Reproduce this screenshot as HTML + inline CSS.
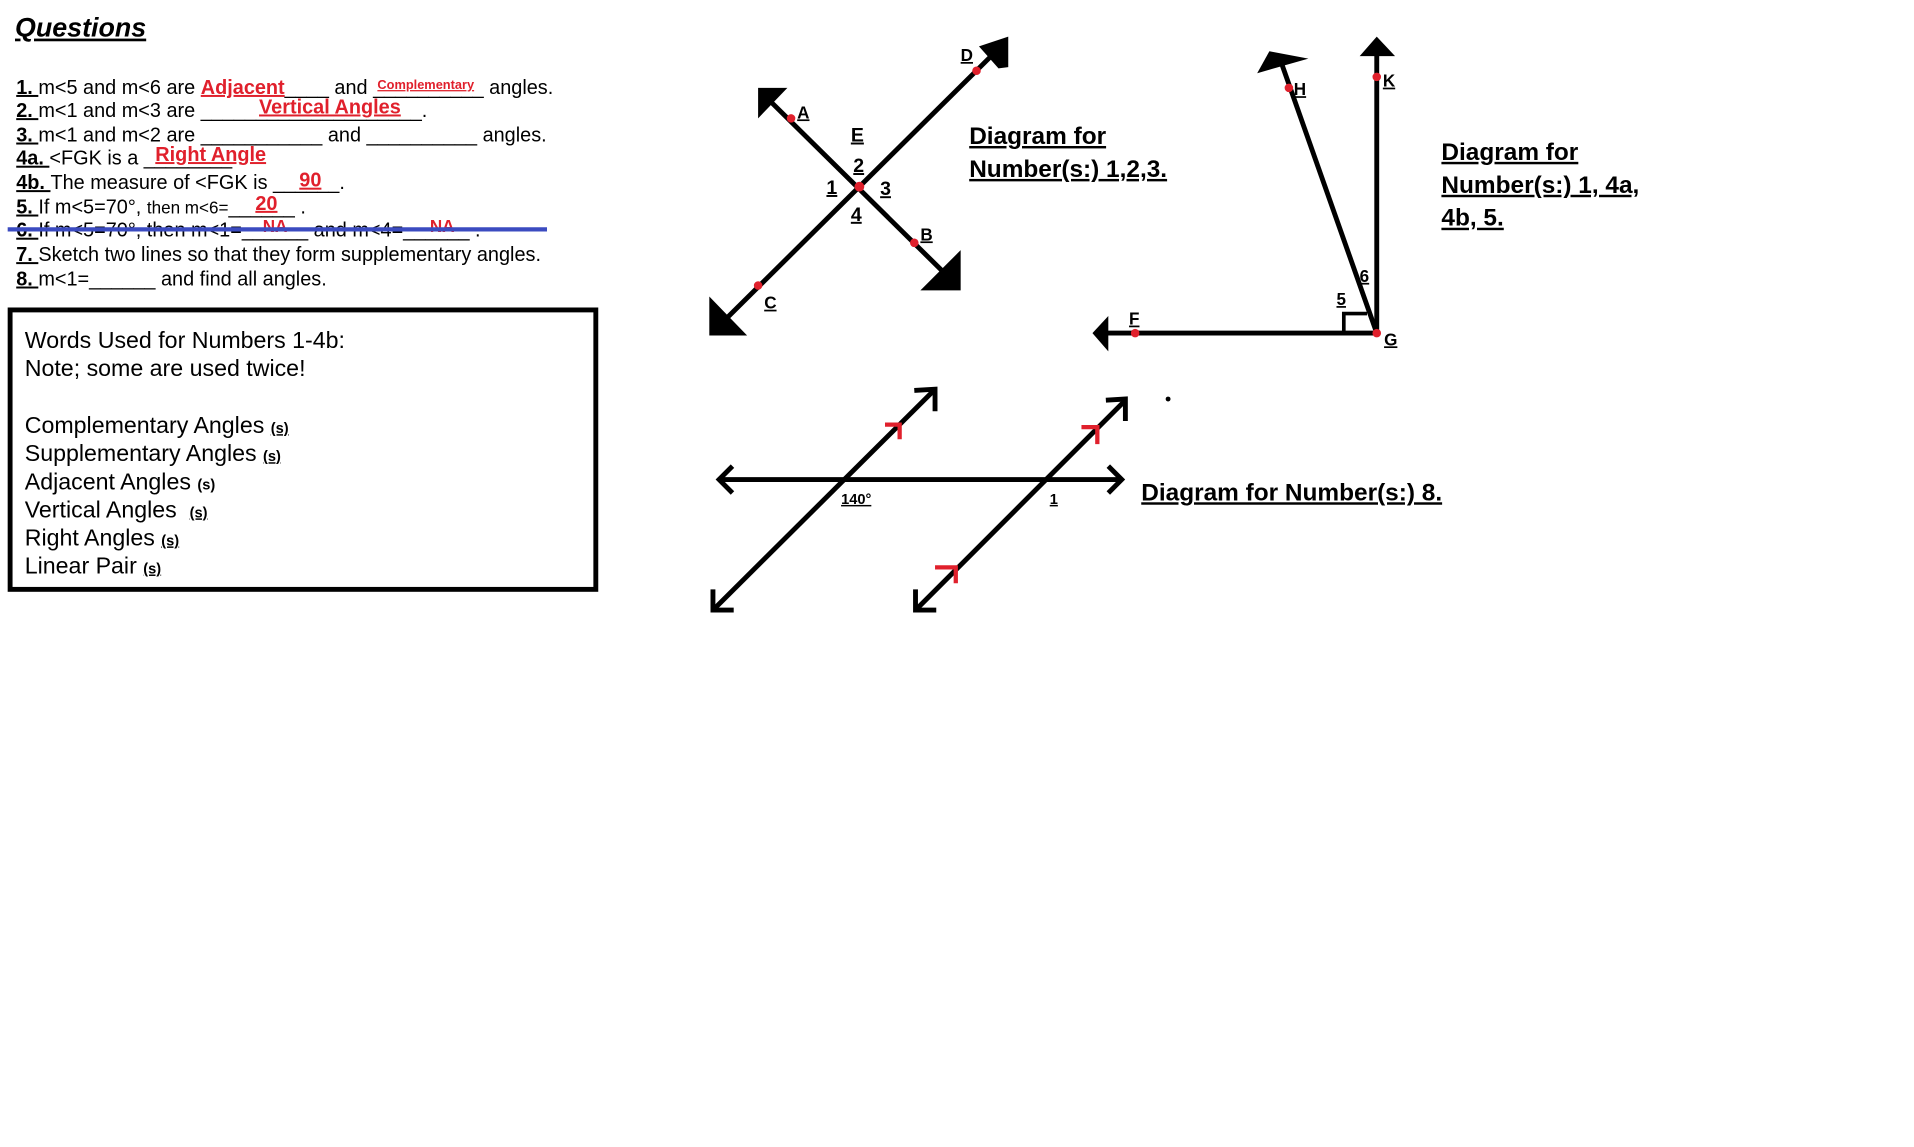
<!DOCTYPE html>
<html><head><style>
html,body{margin:0;padding:0;background:#fff;width:1914px;height:1147px;overflow:hidden}
svg{display:block}
text{font-family:"Liberation Sans",Arial,sans-serif}
.q{font-size:16.3px}
.b{font-weight:bold}
.r{fill:#e0202c;font-weight:bold}
.lab{font-size:16px;font-weight:bold;text-decoration:underline}
.big{font-size:20px;font-weight:bold;text-decoration:underline}
</style></head><body>
<svg width="1914" height="1147" viewBox="0 0 1568 940" xmlns="http://www.w3.org/2000/svg">
<rect width="1568" height="940" fill="#fff"/>
<text x="12" y="30" font-size="22" font-weight="bold" font-style="italic" text-decoration="underline">Questions</text>
<g class="q">
<text x="13" y="77"><tspan class="b" text-decoration="underline">1. </tspan>m&lt;5 and m&lt;6 are <tspan class="r" text-decoration="underline">Adjacent</tspan>____ and __________ angles.</text>
<text x="309" y="73" font-size="10.5" class="r" text-decoration="underline">Complementary</text>
<text x="13" y="96"><tspan class="b" text-decoration="underline">2. </tspan>m&lt;1 and m&lt;3 are ____________________.</text>
<text x="212" y="93" class="r" text-decoration="underline">Vertical Angles</text>
<text x="13" y="116"><tspan class="b" text-decoration="underline">3. </tspan>m&lt;1 and m&lt;2 are ___________ and __________ angles.</text>
<text x="13" y="135"><tspan class="b" text-decoration="underline">4a. </tspan>&lt;FGK is a ________ .</text>
<text x="127" y="132" class="r" text-decoration="underline">Right Angle</text>
<text x="13" y="155"><tspan class="b" text-decoration="underline">4b. </tspan>The measure of &lt;FGK is ______.</text>
<text x="245" y="153" class="r" text-decoration="underline">90</text>
<text x="13" y="175"><tspan class="b" text-decoration="underline">5. </tspan>If m&lt;5=70°, <tspan font-size="14">then m&lt;6=</tspan>______ .</text>
<text x="209" y="172" class="r" text-decoration="underline">20</text>
<text x="13" y="194"><tspan class="b" text-decoration="underline">6. </tspan>If m&lt;5=70°, then m&lt;1=______ and m&lt;4=______ .</text>
<text x="215" y="190" class="r" font-size="14">NA</text>
<text x="352" y="190" class="r" font-size="14">NA</text>
<text x="13" y="214"><tspan class="b" text-decoration="underline">7. </tspan>Sketch two lines so that they form supplementary angles.</text>
<text x="13" y="234"><tspan class="b" text-decoration="underline">8. </tspan>m&lt;1=______ and find all angles.</text>
</g>
<line x1="6" y1="188" x2="448" y2="188" stroke="#3b4bc0" stroke-width="3.5"/>
<rect x="8" y="254" width="480" height="229" fill="none" stroke="#000" stroke-width="4"/>
<g font-size="19">
<text x="20" y="285">Words Used for Numbers 1-4b:</text>
<text x="20" y="308">Note; some are used twice!</text>
<text x="20" y="355">Complementary Angles <tspan font-size="12" font-weight="bold" text-decoration="underline">(s)</tspan></text>
<text x="20" y="378">Supplementary Angles <tspan font-size="12" font-weight="bold" text-decoration="underline">(s)</tspan></text>
<text x="20" y="401">Adjacent Angles <tspan font-size="12" font-weight="bold">(s)</tspan></text>
<text x="20" y="424">Vertical Angles &#160;<tspan font-size="12" font-weight="bold" text-decoration="underline">(s)</tspan></text>
<text x="20" y="447">Right Angles <tspan font-size="12" font-weight="bold" text-decoration="underline">(s)</tspan></text>
<text x="20" y="470">Linear Pair <tspan font-size="12" font-weight="bold" text-decoration="underline">(s)</tspan></text>
</g>
<g stroke="#000" stroke-width="4">
<line x1="592" y1="264" x2="818" y2="40"/>
<line x1="630" y1="82" x2="780" y2="230"/>
</g>
<polygon points="802,38 826,30 826,55 818,56" fill="#000"/>
<polygon points="581,243 581,275 612,275" fill="#000"/>
<polygon points="621,72 645,72 621,97" fill="#000"/>
<polygon points="787,205 787,238 754,238" fill="#000"/>
<g fill="#e0202c"><circle cx="648" cy="97" r="3.5"/><circle cx="800" cy="58" r="3.5"/><circle cx="749" cy="199" r="3.5"/><circle cx="621" cy="234" r="3.5"/><circle cx="704" cy="153" r="4"/></g>
<g class="lab">
<text x="697" y="116">E</text><text x="699" y="141">2</text><text x="677" y="159">1</text><text x="721" y="160">3</text><text x="697" y="181">4</text>
<text x="653" y="97" style="font-size:14px">A</text><text x="787" y="50" style="font-size:14px">D</text><text x="754" y="197" style="font-size:14px">B</text><text x="626" y="253" style="font-size:14px">C</text>
</g>
<text x="794" y="118" class="big">Diagram for</text>
<text x="794" y="145" class="big">Number(s:) 1,2,3.</text>
<g stroke="#000" stroke-width="4" fill="none">
<line x1="1128" y1="273" x2="1128" y2="42"/>
<line x1="1128" y1="273" x2="1050" y2="52"/>
<line x1="1128" y1="273" x2="905" y2="273"/>
<polyline points="1101,273 1101,257 1120,257" stroke-width="3"/>
</g>
<polygon points="1114,46 1128,30 1143,46" fill="#000"/>
<polygon points="1030,60 1040,42 1072,48" fill="#000"/>
<polygon points="895,273 908,259 908,288" fill="#000"/>
<g fill="#e0202c"><circle cx="1128" cy="63" r="3.5"/><circle cx="1056" cy="72" r="3.5"/><circle cx="930" cy="273" r="3.5"/><circle cx="1128" cy="273" r="3.5"/></g>
<g class="lab">
<text x="1133" y="71" style="font-size:14px">K</text><text x="1060" y="78" style="font-size:14px">H</text><text x="925" y="266" style="font-size:14px">F</text><text x="1134" y="283" style="font-size:14px">G</text>
<text x="1095" y="250" style="font-size:14px">5</text><text x="1114" y="231" style="font-size:14px">6</text>
</g>
<text x="1181" y="131" class="big">Diagram for</text>
<text x="1181" y="158" class="big">Number(s:) 1, 4a,</text>
<text x="1181" y="185" class="big">4b, 5.</text>
<g stroke="#000" stroke-width="4" fill="none">
<line x1="589" y1="393" x2="919" y2="393"/>
<polyline points="600,382 589,393 600,404"/>
<polyline points="908,382 919,393 908,404"/>
<line x1="584" y1="500" x2="765" y2="320"/>
<polyline points="749,320 766,319 766,337"/>
<polyline points="584,483 584,500 601,500"/>
<line x1="750" y1="500" x2="922" y2="328"/>
<polyline points="906,328 922,327 922,345"/>
<polyline points="750,483 750,500 767,500"/>
</g>
<g stroke="#e0202c" stroke-width="3.5" fill="none">
<polyline points="725,348 737,348 737,360"/>
<polyline points="886,350 899,350 899,364"/>
<polyline points="766,465 783,465 783,478"/>
</g>
<circle cx="957" cy="327" r="2" fill="#000"/>
<text x="689" y="413" font-size="12" font-weight="bold" text-decoration="underline">140°</text>
<text x="860" y="413" font-size="12" font-weight="bold" text-decoration="underline">1</text>
<text x="935" y="410" class="big">Diagram for Number(s:) 8.</text>
</svg>
</body></html>
